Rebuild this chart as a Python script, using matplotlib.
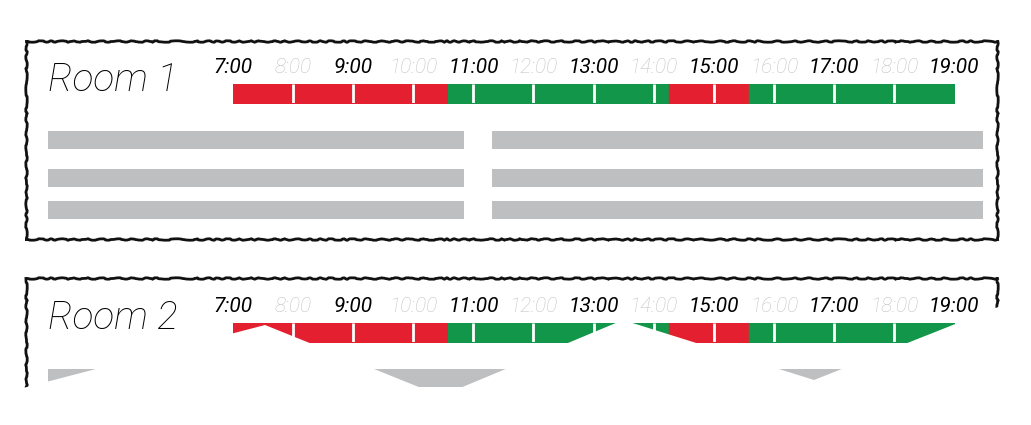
import matplotlib
matplotlib.use("Agg")
import matplotlib.pyplot as plt
from matplotlib.patches import Polygon

plt.rcParams['font.family'] = ['Roboto', 'DejaVu Sans']

W, H = 1031, 425

# timeline data
hours = list(range(7, 20))
hour_labels = ["%d:00" % h for h in hours]
rooms = ["Room 1", "Room 2"]
slot_start = [7.0, 10.583, 14.25, 15.583]
slot_end = [10.583, 14.25, 15.583, 19.0]
slot_state = ["busy", "free", "busy", "free"]
state_color = {"busy": "#e41f2f", "free": "#12964a"}

# layout (page pixels, y from the top)
box = [(26, 41, 997, 239), (26, 278, 997, 480)]
bar_top = [83.5, 322.5]
bar_h = 19.5
title_base = [91, 329]
row_tops = [[131, 169, 201], [369]]
row_cols = [[(48, 464), (492, 983)], [(48, 983)]]
row_h = 18

# torn paper edge
tear_x = [0, 265, 441, 623, 814, 1031]
tear_y = [394, 325, 396, 320, 380, 294]


def px_axes(fig, x0, y0, x1, y1, **kw):
    return fig.add_axes([x0 / W, 1 - y1 / H, (x1 - x0) / W, (y1 - y0) / H], **kw)


fig = plt.figure(figsize=(W / 100, H / 100), dpi=100)

for r in range(len(rooms)):
    x0, y0, x1, y1 = box[r]
    ax = px_axes(fig, x0, y0, x1, y1)
    ax.set_xlim(x0, x1)
    ax.set_ylim(y1, y0)
    ax.set_xticks([])
    ax.set_yticks([])
    for sp in ax.spines.values():
        sp.set_linewidth(2.0)
        sp.set_color("#111111")
        sp.set_sketch_params(0.7, 22, 6)

    for top in row_tops[r]:
        for c0, c1 in row_cols[r]:
            ax.barh(top + row_h / 2, c1 - c0, left=c0, height=row_h,
                    color="#bebfc1", edgecolor="none")

    ax.text(48, title_base[r], rooms[r], fontsize=28, fontstyle="italic",
            fontweight="light", color="black", va="baseline", ha="left")

    tl = px_axes(fig, 233, bar_top[r], 954, bar_top[r] + bar_h)
    tl.set_facecolor("none")
    for s, e, st in zip(slot_start, slot_end, slot_state):
        tl.broken_barh([(s, e - s)], (0, 1), color=state_color[st])
    tl.vlines(hours[1:-1], 0, 1, color="white", lw=2)
    tl.set_xlim(hours[0], hours[-1])
    tl.set_ylim(0, 1)
    tl.set_yticks([])
    tl.set_xticks(hours, hour_labels)
    tl.xaxis.tick_top()
    tl.tick_params(axis="x", length=0, pad=4.5)
    for i, lab in enumerate(tl.get_xticklabels()):
        lab.set_fontsize(15)
        lab.set_fontstyle("italic")
        if i % 2 == 0:
            lab.set_color("black")
        else:
            lab.set_color("#c4c4c4")
            lab.set_fontweight("light")
    for sp in tl.spines.values():
        sp.set_visible(False)

# white overlay for the torn bottom
ov = fig.add_axes([0, 0, 1, 1], zorder=10)
ov.set_xlim(0, W)
ov.set_ylim(H, 0)
ov.axis("off")
pts = list(zip(tear_x, tear_y)) + [(W, H + 5), (0, H + 5)]
ov.add_patch(Polygon(pts, closed=True, facecolor="white", edgecolor="none"))

fig.savefig("out.png", dpi=100)
